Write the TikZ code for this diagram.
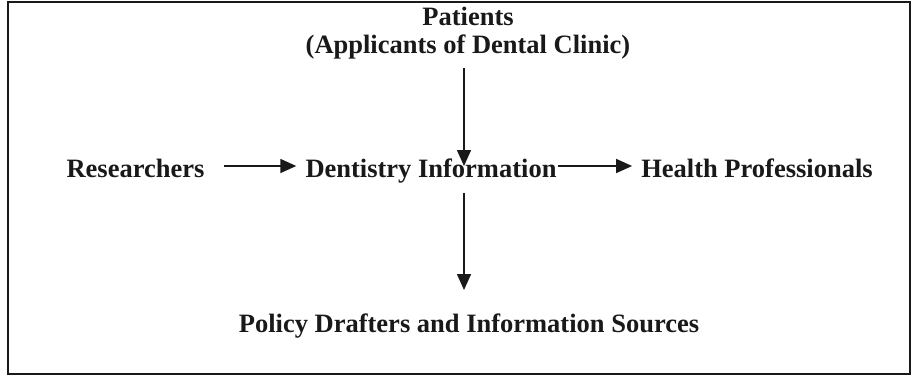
\documentclass[tikz,border=0pt]{standalone}
\usepackage{fontspec}
\setmainfont{Liberation Serif}
\usetikzlibrary{arrows.meta}
\begin{document}
\begin{tikzpicture}[x=1pt,y=-1pt,
  lbl/.style={font=\bfseries\fontsize{26.5}{28}\selectfont, inner sep=0pt, text=black!90},
  arr/.style={line width=1.5pt, draw=black!90, -{Triangle[length=16pt,width=14pt]}}]
\useasboundingbox (0,0) rectangle (916,378);
\draw[line width=2.4pt, draw=black!90] (8,2) rectangle (910,374);
\node[lbl, align=center, anchor=base] (pat) at (468,53) {Patients\\(Applicants of Dental Clinic)};
\node[lbl, anchor=base] (res) at (135.5,177) {Researchers};
\node[lbl, anchor=base] (den) at (431,177) {Dentistry Information};
\node[lbl, anchor=base] (hp) at (757,177) {Health Professionals};
\node[lbl, anchor=base] (pol) at (469,332) {Policy Drafters and Information Sources};
\coordinate (t1) at (464,68);
\coordinate (t2) at (464,166);
\coordinate (b1) at (464,193);
\coordinate (b2) at (464,290);
\draw[arr] (t1) -- (t2);
\draw[arr] (b1) -- (b2);
\draw[arr] ([xshift=19pt,yshift=11pt]res.base east) -- ([xshift=-9pt,yshift=11pt]den.base west);
\draw[arr] ([xshift=1pt,yshift=11pt]den.base east) -- ([xshift=-9pt,yshift=11pt]hp.base west);
\end{tikzpicture}
\end{document}
